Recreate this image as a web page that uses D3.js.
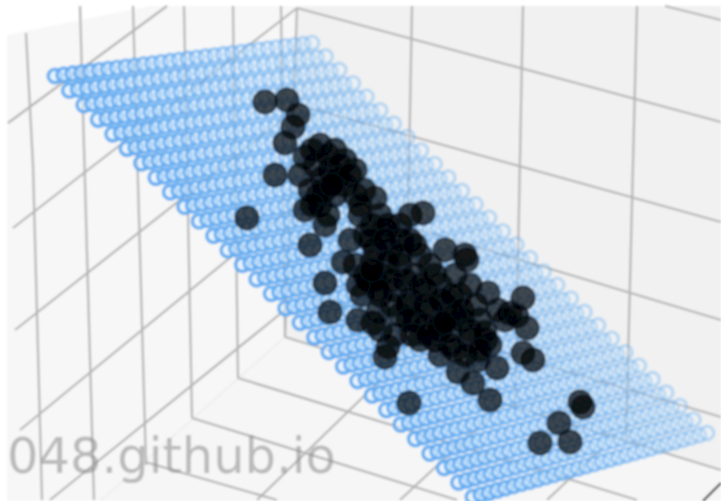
<!DOCTYPE html>
<html><head><meta charset="utf-8">
<style>html,body{margin:0;padding:0;background:#fff}svg{display:block}</style>
<script src="https://cdn.jsdelivr.net/npm/d3@7/dist/d3.min.js"></script>
</head><body><div id="c"></div>
<script>
// black sample points
const pointX = [247,265,287,293,298,285,275,409,490,540,570,559,580,583,385,388,533,523,497,473,458,527,523,488,467,510,373,
 305,320,335,345,355,315,330,300,345,325,310,305,320,335,325,310,343,350,360,375,380,365,385,400,375,390,410,420,355,365,380,400,415,430,445,362,380,395,410,425,440,455,400,415,430,445,460,470,480,462,450,435,420,470,490,455,478,505,325,330,358,410,423,465,517,380,395,378,440,486,
 312,328,340,322,338,350,318,332,312,328,372,388,402,370,385,400,415,372,388,405,420,435,375,392,408,425,440,452,392,408,425,440,455,412,428,445,462,476,470,485,498,450,465,480,440,355,364,360,368,378,358,372];
const pointY = [218,102,100,127,115,143,175,403,400,443,442,423,402,407,357,347,360,353,368,383,372,328,298,293,260,313,323,
 157,145,150,160,170,165,170,175,185,190,190,210,205,195,225,245,262,240,215,198,215,235,230,225,250,250,240,255,265,275,275,265,275,265,250,295,295,290,300,290,285,275,315,320,310,305,295,285,320,320,330,340,340,340,345,350,360,320,283,312,320,215,213,255,316,330,335,312,330,340,
 150,155,165,178,178,175,195,185,205,215,225,225,240,240,240,255,245,262,262,280,285,275,280,280,305,305,300,295,305,320,325,325,315,335,335,322,310,305,330,332,310,345,355,350,355,195,190,205,280,290,285,270];

// grid lines of the 3D box (start and end, in picture units)
const gridX1 = [26,33,80,133,184,233,281,297,412,523,637,8,13,15,20,50,297,665,288,287,285,285,238,192,145,257,400,547];
const gridY1 = [33,165,6,6,6,6,6,8,6,6,6,123,228,330,430,500,8,6,102,190,288,337,378,418,462,500,500,500];
const gridX2 = [33,42,94,146,192,238,285,285,405,515,626,167,297,288,287,285,721,721,721,721,721,721,637,457,277,395,497,600];
const gridY2 = [165,500,500,465,418,378,337,337,370,410,440,6,8,115,211,310,122,20,222,320,417,470,500,500,500,366,410,450];
const paleX1 = [285];
const paleY1 = [337];
const paleX2 = [100];
const paleY2 = [501];

// the fitted plane: a 30 x 30 mesh, with its four corners
const planeU = [0,1,2,3,4,5,6,7,8,9,10,11,12,13,14,15,16,17,18,19,20,21,22,23,24,25,26,27,28,29];
const planeV = [0,1,2,3,4,5,6,7,8,9,10,11,12,13,14,15,16,17,18,19,20,21,22,23,24,25,26,27,28,29];
const edgeLeftX = [55,473];
const edgeLeftY = [76,497];
const edgeRightX = [312,707];
const edgeRightY = [43,433];
const planeAlpha = [1,0.38];

const watermark = "048.github.io";

const W = 721, H = 501;
const sx = d3.scaleLinear().domain([0,721]).range([0,W]);
const sy = d3.scaleLinear().domain([0,501]).range([0,H]);
const vDom = d3.extent(planeV), uDom = d3.extent(planeU);
const lx = d3.scaleLinear().domain(vDom).range(edgeLeftX);
const ly = d3.scaleLinear().domain(vDom).range(edgeLeftY);
const rx = d3.scaleLinear().domain(vDom).range(edgeRightX);
const ry = d3.scaleLinear().domain(vDom).range(edgeRightY);
const t = d3.scaleLinear().domain(uDom).range([0,1]);
const alpha = d3.scaleLinear().domain(uDom).range(planeAlpha);

const svg = d3.select("#c").append("svg").attr("width",W).attr("height",H);
const defs = svg.append("defs");
defs.append("filter").attr("id","soft").attr("x","-2%").attr("y","-2%").attr("width","104%").attr("height","104%")
  .append("feGaussianBlur").attr("stdDeviation",0.8);
svg.append("rect").attr("width",W).attr("height",H).attr("fill","#fff");
const g = svg.append("g").attr("filter","url(#soft)");

const poly = d3.line().x(d=>sx(d[0])).y(d=>sy(d[1]));
g.append("path").attr("d",poly([[7,35],[150,6],[297,6],[285,337],[100,501],[7,501]])+"Z").attr("fill","#f7f7f7");
g.append("path").attr("d",poly([[297,6],[721,6],[721,470],[285,337]])+"Z").attr("fill","#f1f1f1");
g.append("path").attr("d",poly([[285,337],[721,470],[721,501],[100,501]])+"Z").attr("fill","#f6f6f6");

g.append("g").selectAll("line").data(paleX1).join("line")
  .attr("x1",(d,i)=>sx(paleX1[i])).attr("y1",(d,i)=>sy(paleY1[i]))
  .attr("x2",(d,i)=>sx(paleX2[i])).attr("y2",(d,i)=>sy(paleY2[i]))
  .attr("stroke","#ececec").attr("stroke-width",1.5);

g.append("g").selectAll("line").data(gridX1).join("line")
  .attr("x1",(d,i)=>sx(gridX1[i])).attr("y1",(d,i)=>sy(gridY1[i]))
  .attr("x2",(d,i)=>sx(gridX2[i])).attr("y2",(d,i)=>sy(gridY2[i]))
  .attr("stroke","#b4b4b4").attr("stroke-width",2.2);

g.append("path").attr("d",poly([[703,501],[721,483]])).attr("stroke","#222").attr("stroke-width",2.2).attr("fill","none");

const mesh = planeV.flatMap(v=>planeU.map(u=>({u,v})));
g.append("g").selectAll("circle").data(mesh).join("circle")
  .attr("cx",d=>lx(d.v)+(rx(d.v)-lx(d.v))*t(d.u))
  .attr("cy",d=>ly(d.v)+(ry(d.v)-ly(d.v))*t(d.u))
  .attr("r",6.8)
  .attr("fill","#dff1ff").attr("fill-opacity",d=>alpha(d.u)*0.6)
  .attr("stroke","#5fa9f0").attr("stroke-width",3.6)
  .attr("stroke-opacity",d=>alpha(d.u)*0.9);

g.append("g").selectAll("circle").data(pointX).join("circle")
  .attr("cx",(d,i)=>sx(pointX[i])).attr("cy",(d,i)=>sy(pointY[i]))
  .attr("r",11.8)
  .attr("fill","#000").attr("fill-opacity",0.68)
  .attr("stroke","#0a1420").attr("stroke-opacity",0.6).attr("stroke-width",2);

g.append("text").attr("x",sx(7)).attr("y",sy(473))
  .attr("font-family","DejaVu Sans").attr("font-size",49.5)
  .attr("fill","#888").attr("fill-opacity",0.55).text(watermark);
</script></body></html>
